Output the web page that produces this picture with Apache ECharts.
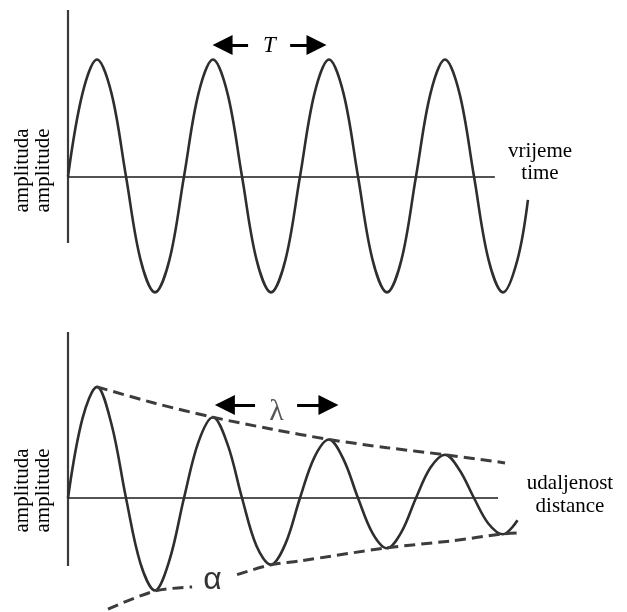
<!DOCTYPE html>
<html>
<head>
<meta charset="utf-8">
<script src="https://cdn.jsdelivr.net/npm/echarts@6/dist/echarts.min.js"></script>
<style>html,body{margin:0;padding:0;background:#fff}#c{width:627px;height:612px}</style>
</head>
<body>
<div id="c"></div>
<script>
// x in quarter-periods (one period = 4 units), y in amplitude units
const sampleX = [0,0.5,1,1.5,2,2.5,3,3.5,4,4.5,5,5.5,6,6.5,7,7.5,8,8.5,9,9.5,10,10.5,11,11.5,12,12.5,13,13.5,14,14.5,15,15.5];
const timeWave = [0,0.71,1.0,0.71,0,-0.71,-0.99,-0.71,0,0.71,1.0,0.71,0,-0.71,-0.99,-0.71,0,0.71,1.0,0.71,0,-0.71,-0.99,-0.71,0,0.71,1.0,0.71,0,-0.71,-0.99,-0.71];
const timeWaveEnd = [15.86, -0.2];
const distWave = [0,0.68,0.95,0.63,0,-0.56,-0.79,-0.53,0,0.48,0.69,0.46,0,-0.41,-0.57,-0.39,0,0.35,0.50,0.33,0,-0.30,-0.43,-0.29,0,0.26,0.37,0.24,0,-0.22,-0.31,-0.19];
const upperEnvelope = [[1.0,0.95],[3.0,0.81],[5.0,0.69],[7.0,0.59],[9.0,0.50],[11.0,0.43],[13.0,0.37],[15.07,0.30]];
const lowerEnvelopeA = [[1.38,-0.949],[3.0,-0.795],[4.28,-0.76]];
const lowerEnvelopeB = [[5.83,-0.655],[6.97,-0.573],[8.0,-0.538],[10.97,-0.427],[13.17,-0.368],[14.97,-0.308],[15.48,-0.299]];
const timeAxisX = [0, 14.72], timeAxisY = [-0.568, 1.423];
const distAxisX = [0, 14.83], distAxisY = [-0.581, 1.419];
const periodArrows = [[[5.33,1.124],[6.21,1.124]],[[8.57,1.124],[7.66,1.124]]];
const wavelengthArrows = [[[5.41,0.795],[6.45,0.795]],[[8.98,0.795],[7.90,0.795]]];
const yLabel = 'amplituda\namplitude';
const timeLabel = 'vrijeme\ntime';
const distLabel = 'udaljenost\ndistance';

const chart = echarts.init(document.getElementById('c'), null, {renderer:'canvas'});
const hiddenX = (i)=>({type:'value', gridIndex:i, min:-2, max:18, show:false});
const hiddenY = (i)=>({type:'value', gridIndex:i, min:-1.5, max:1.5, show:false});
const axesLines = (ax, ay, gi)=>({
  type:'lines', coordinateSystem:'cartesian2d', xAxisIndex:gi, yAxisIndex:gi, silent:true,
  symbol:'none',
  data:[
    {coords:[[0,ay[0]],[0,ay[1]]], lineStyle:{color:'#3a3a3a', width:2.2, opacity:1}},
    {coords:[[ax[0],0],[ax[1],0]], lineStyle:{color:'#1a1a1a', width:1.6, opacity:1}}
  ]
});
const arrows = (d, gi)=>({
  type:'lines', coordinateSystem:'cartesian2d', xAxisIndex:gi, yAxisIndex:gi, silent:true,
  symbol:['triangle','none'], symbolSize:20,
  lineStyle:{color:'#000', width:3, opacity:1},
  data:d.map(c=>({coords:c}))
});
const waveStyle = {color:'#2e2e2e', width:2.6};
const dashStyle = {color:'#3c3c3c', width:3, type:[11,6]};

chart.setOption({
  animation:false,
  backgroundColor:'#fff',
  grid:[
    {left:10, width:580, top:1, height:351, containLabel:false, outerBoundsMode:'none'},
    {left:10, width:580, top:322.5, height:351, containLabel:false, outerBoundsMode:'none'}
  ],
  xAxis:[hiddenX(0), hiddenX(1)],
  yAxis:[hiddenY(0), hiddenY(1)],
  series:[
    axesLines(timeAxisX, timeAxisY, 0),
    {type:'line', xAxisIndex:0, yAxisIndex:0, showSymbol:false, smooth:0.35, silent:true,
      lineStyle:waveStyle, data: sampleX.map((x,i)=>[x,timeWave[i]]).concat([timeWaveEnd])},
    arrows(periodArrows, 0),
    axesLines(distAxisX, distAxisY, 1),
    {type:'line', xAxisIndex:1, yAxisIndex:1, showSymbol:false, smooth:0.35, silent:true,
      lineStyle:waveStyle, data: sampleX.map((x,i)=>[x,distWave[i]])},
    {type:'line', xAxisIndex:1, yAxisIndex:1, showSymbol:false, smooth:0.3, silent:true,
      lineStyle:dashStyle, data: upperEnvelope},
    {type:'line', xAxisIndex:1, yAxisIndex:1, showSymbol:false, smooth:0.3, silent:true,
      lineStyle:dashStyle, data: lowerEnvelopeA},
    {type:'line', xAxisIndex:1, yAxisIndex:1, showSymbol:false, smooth:0.3, silent:true,
      lineStyle:dashStyle, data: lowerEnvelopeB},
    arrows(wavelengthArrows, 1)
  ],
  graphic:[
    {type:'text', x:33, y:170.5, rotation:Math.PI/2, silent:true,
      style:{text:yLabel, fontSize:21, fontFamily:'Liberation Serif', fill:'#000', align:'center', verticalAlign:'middle', lineHeight:21}},
    {type:'text', x:33, y:490.5, rotation:Math.PI/2, silent:true,
      style:{text:yLabel, fontSize:21, fontFamily:'Liberation Serif', fill:'#000', align:'center', verticalAlign:'middle', lineHeight:21}},
    {type:'text', x:540, y:162, silent:true,
      style:{text:timeLabel, fontSize:21, fontFamily:'Liberation Serif', fill:'#000', align:'center', verticalAlign:'middle', lineHeight:22}},
    {type:'text', x:570, y:494.5, silent:true,
      style:{text:distLabel, fontSize:21, fontFamily:'Liberation Serif', fill:'#000', align:'center', verticalAlign:'middle', lineHeight:23}},
    {type:'text', x:269.5, y:46, silent:true,
      style:{text:'T', fontSize:23, fontStyle:'italic', fontFamily:'Liberation Serif', fill:'#000', align:'center', verticalAlign:'middle'}},
    {type:'text', x:276.5, y:412, silent:true,
      style:{text:'λ', fontSize:30, fontFamily:'Liberation Serif', fill:'#555', align:'center', verticalAlign:'middle'}},
    {type:'text', x:212.5, y:580, silent:true,
      style:{text:'α', fontSize:32, fontFamily:'Liberation Sans', fill:'#333', align:'center', verticalAlign:'middle'}}
  ]
});
</script>
</body>
</html>
